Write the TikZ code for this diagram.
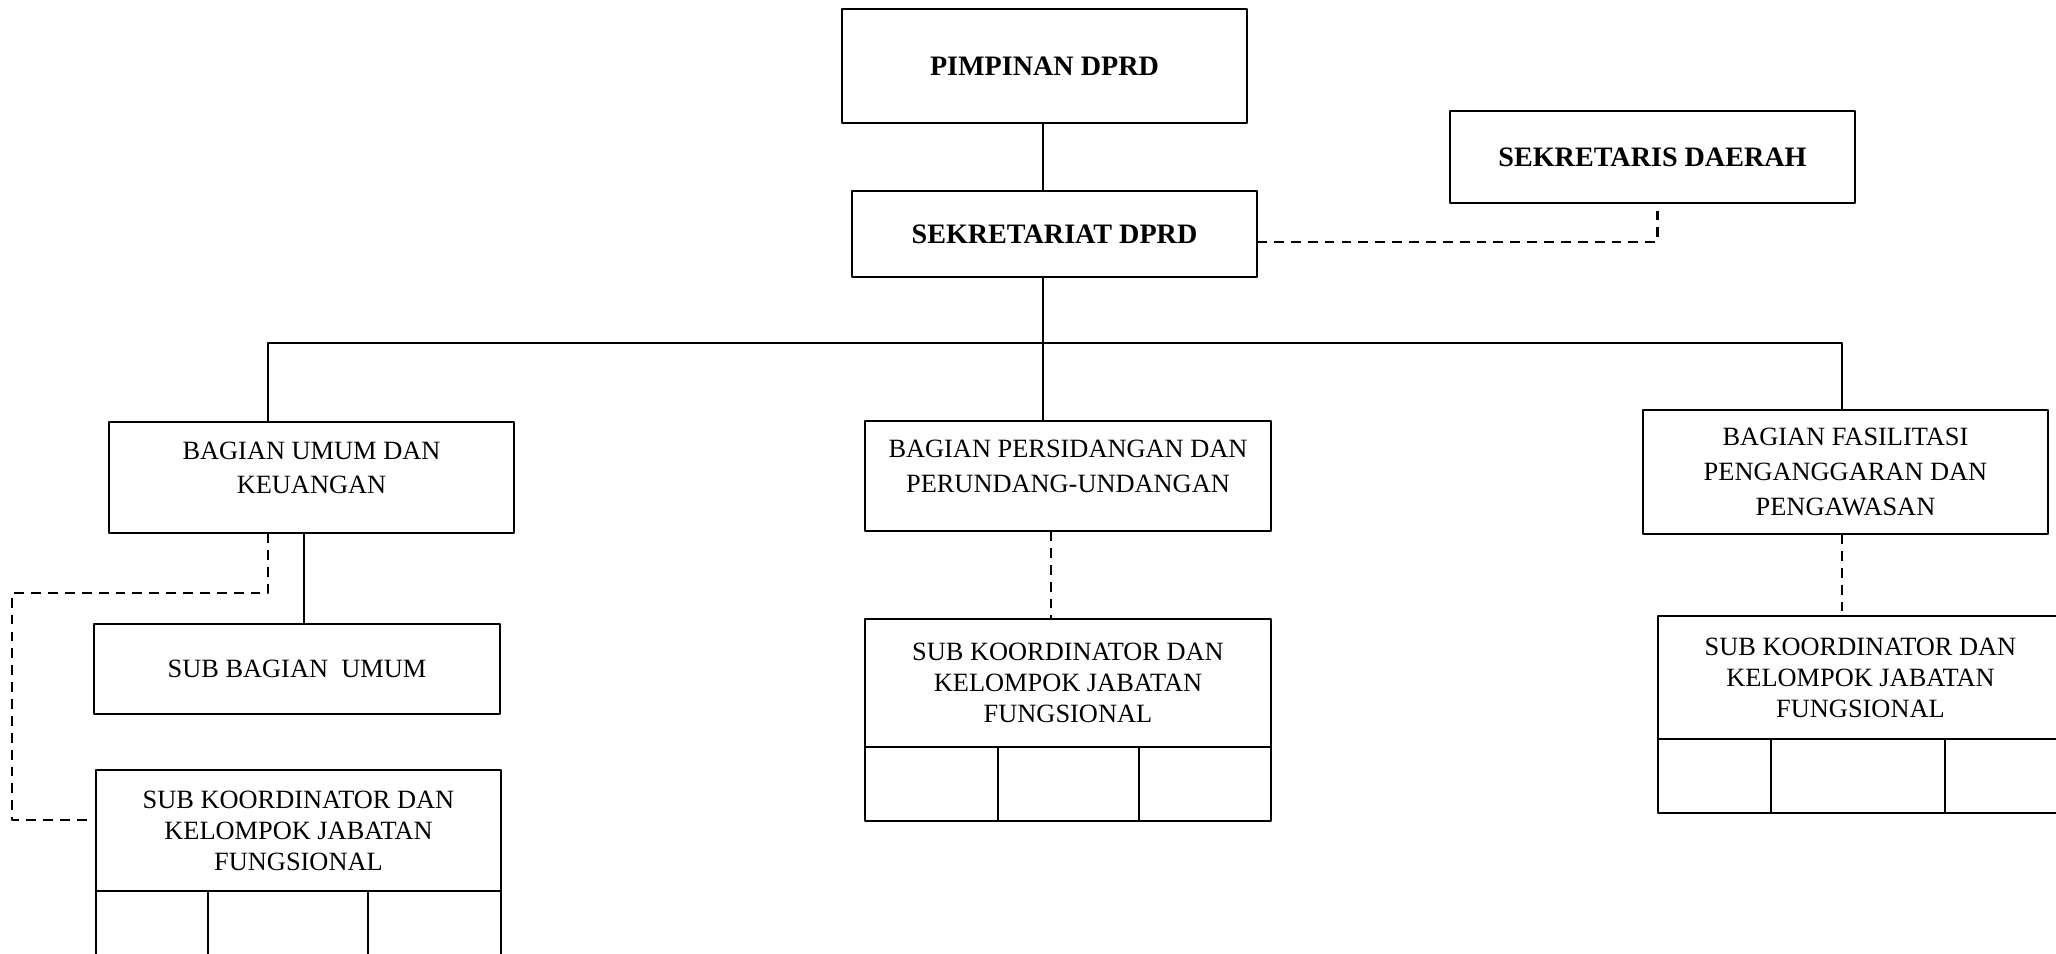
\documentclass[tikz,border=0pt]{standalone}
\usepackage{fontspec}
\setmainfont{Liberation Serif}
\tikzset{
  box/.style={draw,line width=0.7pt,outer sep=0pt,align=center,inner sep=2pt,font=\fontsize{7.5}{9.9}\selectfont},
  boxb/.style={box,font=\fontsize{8}{10}\selectfont\bfseries},
  boxk/.style={box,font=\fontsize{7.5}{8.8}\selectfont},
  cell/.style={draw,line width=0.7pt,outer sep=0pt,anchor=north west,inner sep=0pt},
  dashline/.style={line width=0.6pt,dash pattern=on 2.8pt off 2pt}
}
\begin{document}
\begin{tikzpicture}[x=0.01cm,y=-0.01cm,line join=round]
\useasboundingbox (0,0) rectangle (2056,954);
\clip (0,0) rectangle (2056,954);
% top
\node[boxb,minimum width=4.05cm,minimum height=1.14cm] (pimpinan) at (1044.5,66) {PIMPINAN DPRD};
\node[boxb,minimum width=4.05cm,minimum height=0.86cm] (sekretariat) at (1054.5,234) {SEKRETARIAT DPRD};
\node[boxb,minimum width=4.05cm,minimum height=0.92cm] (sekda) at (1652.5,157) {SEKRETARIS DAERAH};
% bagian
\node[box,minimum width=4.05cm,minimum height=1.11cm,text depth=5.5pt] (umum) at (311.5,477.5) {BAGIAN UMUM DAN\\KEUANGAN};
\node[box,minimum width=4.06cm,minimum height=1.10cm,text depth=5.5pt] (sidang) at (1068,476) {BAGIAN PERSIDANGAN DAN\\PERUNDANG-UNDANGAN};
\node[box,minimum width=4.05cm,minimum height=1.24cm] (fasilitasi) at (1845.5,472) {BAGIAN FASILITASI\\PENGANGGARAN DAN\\PENGAWASAN};
% sub bagian
\node[box,minimum width=4.06cm,minimum height=0.90cm] (subumum) at (297,669) {SUB BAGIAN\ \ UMUM};
\node[boxk,minimum width=4.05cm,minimum height=1.21cm] (kelomL) at (298.5,830.5) {SUB KOORDINATOR DAN\\KELOMPOK JABATAN\\FUNGSIONAL};
\node[boxk,minimum width=4.06cm,minimum height=1.28cm] (kelomM) at (1068,683) {SUB KOORDINATOR DAN\\KELOMPOK JABATAN\\FUNGSIONAL};
\node[boxk,minimum width=4.05cm,minimum height=1.23cm] (kelomR) at (1860.5,677.5) {SUB KOORDINATOR DAN\\KELOMPOK JABATAN\\FUNGSIONAL};
% cells
\node[cell,minimum width=1.12cm,minimum height=1.10cm] (cL1) at (kelomL.south west) {};
\node[cell,minimum width=1.60cm,minimum height=1.10cm] (cL2) at (cL1.north east) {};
\node[cell,minimum width=1.33cm,minimum height=1.10cm] (cL3) at (cL2.north east) {};
\node[cell,minimum width=1.33cm,minimum height=0.74cm] (cM1) at (kelomM.south west) {};
\node[cell,minimum width=1.41cm,minimum height=0.74cm] (cM2) at (cM1.north east) {};
\node[cell,minimum width=1.32cm,minimum height=0.74cm] (cM3) at (cM2.north east) {};
\node[cell,minimum width=1.13cm,minimum height=0.74cm] (cR1) at (kelomR.south west) {};
\node[cell,minimum width=1.74cm,minimum height=0.74cm] (cR2) at (cR1.north east) {};
\node[cell,minimum width=1.18cm,minimum height=0.74cm] (cR3) at (cR2.north east) {};
% lines
\coordinate (bus) at (1043,343);
\coordinate (busL) at (268,343);
\coordinate (busR) at (1842,343);
\coordinate (dashL) at (12,593);
\draw[line width=0.7pt] (pimpinan.south -| bus) -- (sekretariat.north -| bus);
\draw[line width=0.7pt] (sekretariat.south -| bus) -- (sidang.north -| bus);
\draw[line width=0.7pt] (umum.north -| busL) -- (busL) -- (busR) -- (fasilitasi.north -| busR);
\draw[line width=0.7pt] ([xshift=-0.075cm]umum.south) -- ([xshift=-0.075cm]umum.south |- subumum.north);
\draw[dashline] ([yshift=-0.08cm]sekretariat.east) -| ([xshift=0.05cm]sekda.south);
\draw[dashline] (umum.south -| busL) |- (dashL) |- ([xshift=-0.05cm,yshift=0.105cm]kelomL.west);
\draw[dashline] ([xshift=-0.17cm]sidang.south) -- ([xshift=-0.17cm]kelomM.north);
\draw[dashline] (fasilitasi.south -| busR) -- (kelomR.north -| busR);
\end{tikzpicture}
\end{document}
